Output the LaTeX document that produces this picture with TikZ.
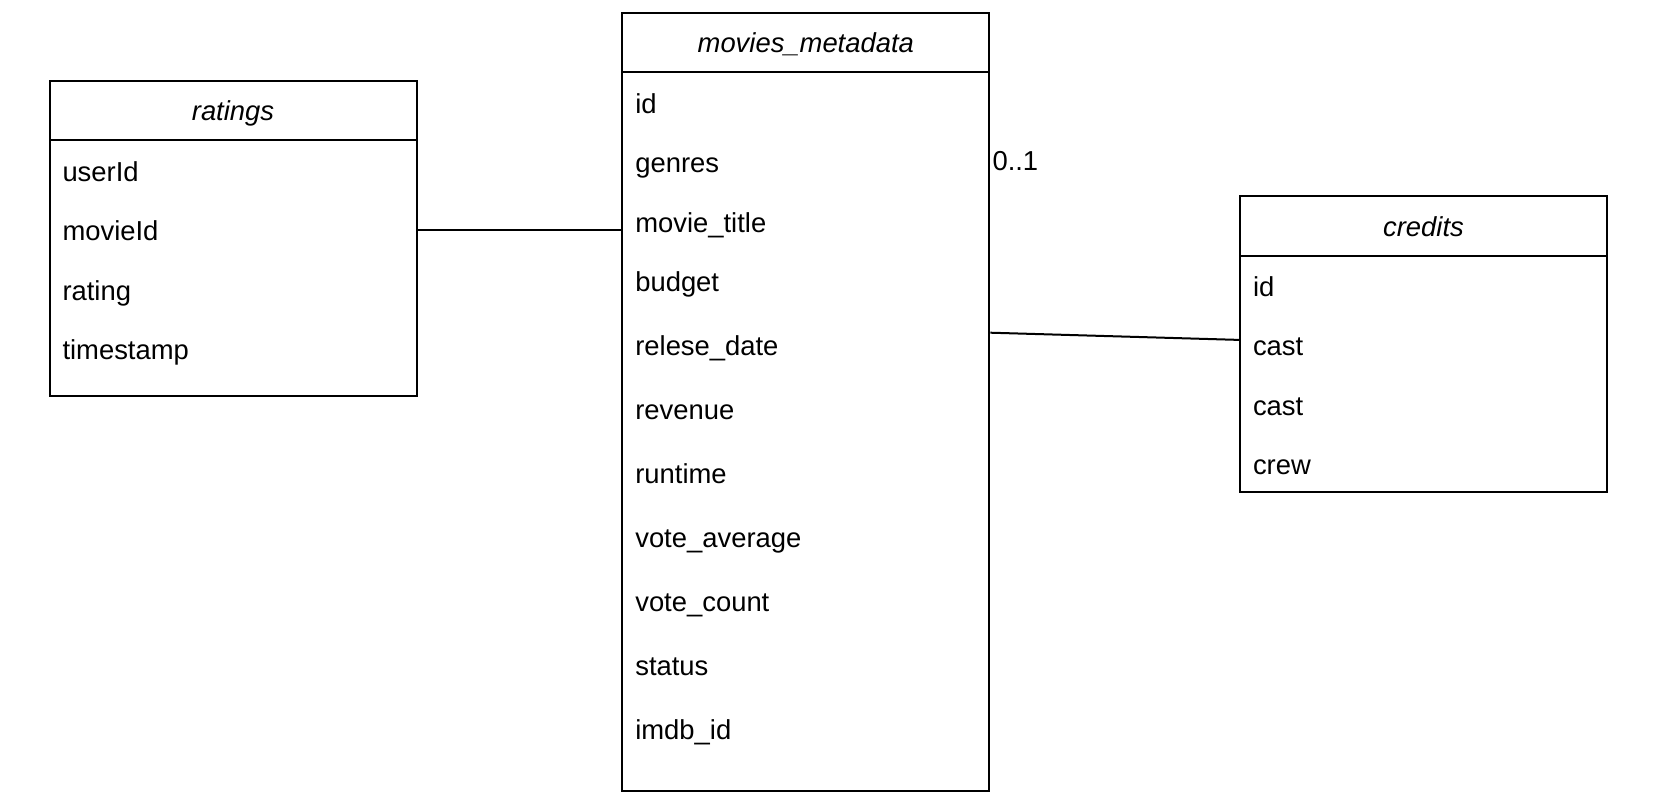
\documentclass[tikz,border=0pt]{standalone}
\usepackage{fontspec}
\setmainfont{Liberation Sans}
\usetikzlibrary{positioning}
\begin{document}
\begin{tikzpicture}[font=\fontsize{13.7pt}{16pt}\selectfont, line width=1pt]
    \tikzstyle{head} = [rectangle, draw, minimum width=183.5pt, minimum height=29.75pt, inner sep=0pt, text height=10.6pt, text depth=0.2pt, font=\fontsize{13.7pt}{16pt}\selectfont\itshape]
    \tikzstyle{body} = [rectangle, draw, minimum width=183.5pt, inner sep=0pt]
    \tikzstyle{field} = [anchor=base west, inner sep=0pt]
    \useasboundingbox (0,0) rectangle (828.5pt,-401pt);

    \node [head] (mh) at (402.9pt,-21.225pt) {movies\_metadata};
    \node [body, below=-1pt of mh, minimum height=359.15pt] (mb) {};
    \node [head, left=101.9pt of mh, yshift=-34pt] (rh) {ratings};
    \node [body, below=-1pt of rh, minimum height=127.8pt] (rb) {};
    \node [head, right=124.35pt of mh, yshift=-91.65pt] (ch) {credits};
    \node [body, below=-1pt of ch, minimum height=118.3pt] (cb) {};

    \node [field] (r1) at ([xshift=6.5pt, yshift=-21pt]rb.north west) {userId};
    \node [field] (r2) at ([yshift=-29.7pt]r1.base west) {movieId};
    \node [field] (r3) at ([yshift=-29.7pt]r2.base west) {rating};
    \node [field] (r4) at ([yshift=-29.7pt]r3.base west) {timestamp};

    \node [field] (m1) at ([xshift=6.5pt, yshift=-21pt]mb.north west) {id};
    \node [field] (m2) at ([yshift=-29.75pt]m1.base west) {genres};
    \node [field] (m3) at ([yshift=-29.75pt]m2.base west) {movie\_title};
    \node [field] (m4) at ([yshift=-29.75pt]m3.base west) {budget};
    \node [field] (m5) at ([yshift=-32pt]m4.base west) {relese\_date};
    \node [field] (m6) at ([yshift=-32pt]m5.base west) {revenue};
    \node [field] (m7) at ([yshift=-32pt]m6.base west) {runtime};
    \node [field] (m8) at ([yshift=-32pt]m7.base west) {vote\_average};
    \node [field] (m9) at ([yshift=-32pt]m8.base west) {vote\_count};
    \node [field] (m10) at ([yshift=-32pt]m9.base west) {status};
    \node [field] (m11) at ([yshift=-32pt]m10.base west) {imdb\_id};

    \node [field] (c1) at ([xshift=6.5pt, yshift=-21pt]cb.north west) {id};
    \node [field] (c2) at ([yshift=-29.7pt]c1.base west) {cast};
    \node [field] (c3) at ([yshift=-29.7pt]c2.base west) {cast};
    \node [field] (c4) at ([yshift=-29.7pt]c3.base west) {crew};

    \coordinate (j1) at ([yshift=5.5pt]r2.base);
    \coordinate (j2) at ([yshift=11.5pt]m5.base);
    \coordinate (j3) at ([yshift=8pt]c2.base);
    \draw (rb.east |- j1) -- (mb.west |- j1);
    \draw (mb.east |- j2) -- (cb.west |- j3);
    \node [field, xshift=0.6pt, yshift=1.3pt] (card) at (mb.east |- m2.base) {0..1};
\end{tikzpicture}
\end{document}
